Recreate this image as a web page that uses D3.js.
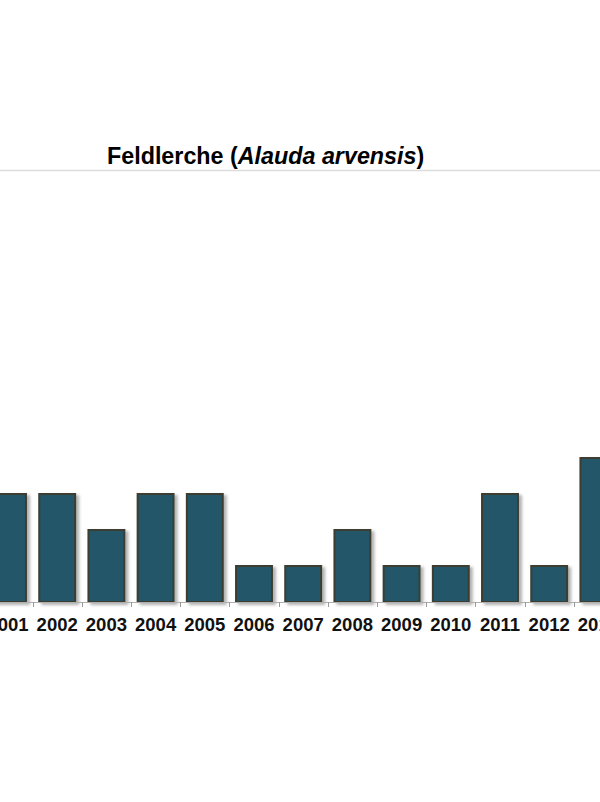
<!DOCTYPE html>
<html>
<head>
<meta charset="utf-8">
<script src="https://cdn.jsdelivr.net/npm/d3@7"></script>
<style>
  body { margin: 0; background: #fff; }
  svg { display: block; font-family: "Liberation Sans", Arial, sans-serif; }
</style>
</head>
<body>
<div id="chart"></div>
<script>
// years shown and number of records per year
var years = ["2001", "2002", "2003", "2004", "2005", "2006", "2007", "2008", "2009", "2010", "2011", "2012", "2013"];
var counts = [3, 3, 2, 3, 3, 1, 1, 2, 1, 1, 3, 1, 4];
var yMax = 12;

var width = 600,
    height = 802;

var svg = d3.select("#chart")
    .append("svg")
    .attr("width", width)
    .attr("height", height);

// drop shadow for the bars
var defs = svg.append("defs");
var f = defs.append("filter")
    .attr("id", "shadow")
    .attr("x", "-20%").attr("y", "-20%")
    .attr("width", "150%").attr("height", "150%");
f.append("feDropShadow")
    .attr("dx", 3).attr("dy", 2)
    .attr("stdDeviation", 1.8)
    .attr("flood-color", "#000")
    .attr("flood-opacity", 0.3);

// plot area runs past the window on both sides (chart is cropped)
var x = d3.scaleBand()
    .domain(years)
    .range([-16.6, -16.6 + 13 * 49.2])
    .paddingInner(0.27)
    .paddingOuter(0.135);

var y = d3.scaleLinear()
    .domain([0, yMax])
    .range([602, 170]);

// top border of the plot
svg.append("line")
    .attr("x1", 0).attr("x2", width)
    .attr("y1", y(yMax) + 0.5).attr("y2", y(yMax) + 0.5)
    .attr("stroke", "#dcdcdc")
    .attr("stroke-width", 1.5);

// title
var title = svg.append("text")
    .attr("x", 107)
    .attr("y", 164)
    .attr("font-size", 23.3)
    .attr("font-weight", "bold")
    .attr("fill", "#000");
title.append("tspan").text("Feldlerche (");
title.append("tspan").attr("font-style", "italic").text("Alauda arvensis");
title.append("tspan").text(")");

// bars
svg.selectAll("rect.bar")
    .data(years)
    .enter()
    .append("rect")
    .attr("class", "bar")
    .attr("x", function(d) { return x(d); })
    .attr("width", x.bandwidth())
    .attr("y", function(d, i) { return y(counts[i]); })
    .attr("height", function(d, i) { return y(0) - y(counts[i]); })
    .attr("fill", "#215668")
    .attr("stroke", "#3c3d32")
    .attr("stroke-width", 2)
    .attr("filter", "url(#shadow)");

// x axis
var axis = svg.append("g");
axis.append("line")
    .attr("x1", 0).attr("x2", width)
    .attr("y1", y(0) + 0.5).attr("y2", y(0) + 0.5)
    .attr("stroke", "#b0b0b0");

var step = x.step();
axis.selectAll("line.tick")
    .data(years)
    .enter()
    .append("line")
    .attr("class", "tick")
    .attr("x1", function(d) { return Math.round(x(d) + x.bandwidth() + (step - x.bandwidth()) / 2) + 0.5; })
    .attr("x2", function(d) { return Math.round(x(d) + x.bandwidth() + (step - x.bandwidth()) / 2) + 0.5; })
    .attr("y1", y(0))
    .attr("y2", y(0) + 5)
    .attr("stroke", "#9a9a9a");

axis.selectAll("text")
    .data(years)
    .enter()
    .append("text")
    .attr("x", function(d) { return x(d) + x.bandwidth() / 2; })
    .attr("y", 631)
    .attr("text-anchor", "middle")
    .attr("font-size", 18.5)
    .attr("font-weight", "bold")
    .attr("fill", "#111")
    .text(function(d) { return d; });
</script>
</body>
</html>
